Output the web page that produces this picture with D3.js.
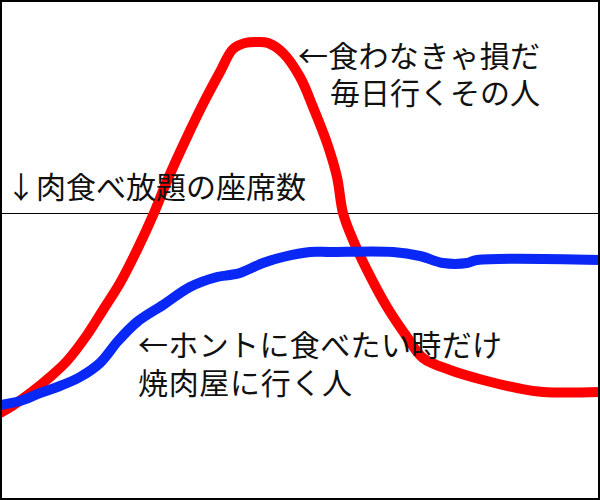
<!DOCTYPE html>
<html>
<head>
<meta charset="utf-8">
<script src="https://cdn.jsdelivr.net/npm/d3@7"></script>
<style>
  html, body { margin: 0; padding: 0; background: #fff; }
  svg { display: block; }
</style>
</head>
<body>
<div id="chart"></div>
<script>
// time axis (arbitrary units) and appetite level
const redX = [0, 1.2, 3.3, 5, 6.7, 8.7, 10.3, 12, 13.7, 15.4, 16.7, 18.7, 20.3, 22, 23.3, 24.5, 25.8, 26.8, 28.3,
  30, 31.3, 32.7, 33.7, 34.3, 35.3, 36.7, 38.7, 40.7, 42.3, 45, 48.3, 51.7, 54.3, 60];
const redY = [17.4, 18.8, 21.8, 24.6, 27.8, 33, 38, 43.4, 50, 57.4, 63.8, 72.6, 79.2, 85.6, 90.2, 91.4, 91.6, 91.4, 89.4,
  84.6, 78.6, 71.4, 64.6, 57.4, 52, 46, 38.6, 32.6, 28.4, 26, 24, 22.4, 21.6, 21.6];

const blueX = [0, 2, 4, 6, 8, 10, 11.8, 13.7, 16.3, 19, 21.7, 23, 24, 26.3, 28.3, 31, 33, 39.3, 42, 44.3, 46.7, 47.7, 60];
const blueY = [19, 19.8, 21.4, 22.8, 24.6, 27.4, 31.8, 35.6, 39, 42.6, 44.6, 45, 45.4, 47.4, 48.6, 49.6, 49.6, 49.6,
  48.8, 47.4, 47.4, 48, 48];

const seatLevel = 57.4;

const redLabel = ['←食わなきゃ損だ', '毎日行くその人'];
const blueLabel = ['←ホントに食べたい時だけ', '焼肉屋に行く人'];
const seatLabel = '↓肉食べ放題の座席数';

const w = 600,
  h = 500;

const scales = {};

const setScales = () => {
  scales.x = d3.scaleLinear().domain([0, 60]).range([0, w]);
  scales.y = d3.scaleLinear().domain([0, 100]).range([h, 0]);
};

const svg = d3
  .select('#chart')
  .append('svg')
  .attr('width', w)
  .attr('height', h);

setScales();

svg.append('rect').attr('width', w).attr('height', h).attr('fill', '#fff');

const lineFn = d3
  .line()
  .x(d => scales.x(d[0]))
  .y(d => scales.y(d[1]))
  .curve(d3.curveCatmullRom.alpha(0.5));

// seat capacity line
svg
  .append('line')
  .attr('x1', scales.x(0))
  .attr('x2', scales.x(60))
  .attr('y1', Math.round(scales.y(seatLevel)) + 0.5)
  .attr('y2', Math.round(scales.y(seatLevel)) + 0.5)
  .attr('stroke', '#000')
  .attr('stroke-width', 1.2);

const drawSeries = (xs, ys, color) => {
  svg
    .append('path')
    .attr('d', lineFn(xs.map((x, i) => [x, ys[i]])))
    .attr('fill', 'none')
    .attr('stroke', color)
    .attr('stroke-width', 10)
    .attr('stroke-linejoin', 'round');
};

drawSeries(redX, redY, '#ff0000');
drawSeries(blueX, blueY, '#0a28f5');

const labelFormat = {
  'font-family': '"Noto Sans CJK JP", "Noto Sans CJK SC", sans-serif',
  'font-size': '30px',
  fill: '#111',
};

const drawText = (txt, x, y, len) => {
  const t = svg
    .append('text')
    .attr('x', x)
    .attr('y', y)
    .attr('textLength', len)
    .attr('lengthAdjust', 'spacing')
    .text(txt);
  Object.entries(labelFormat).forEach(([k, v]) => t.attr(k, v));
};

drawText(redLabel[0], 298, 67, 242);
drawText(redLabel[1], 330, 104, 210);
drawText(seatLabel, 6, 198, 300);
drawText(blueLabel[0], 138, 356, 364);
drawText(blueLabel[1], 138, 394, 214);

// frame
svg
  .append('rect')
  .attr('x', 1)
  .attr('y', 1)
  .attr('width', w - 2)
  .attr('height', h - 2)
  .attr('fill', 'none')
  .attr('stroke', '#000')
  .attr('stroke-width', 2);
</script>
</body>
</html>
